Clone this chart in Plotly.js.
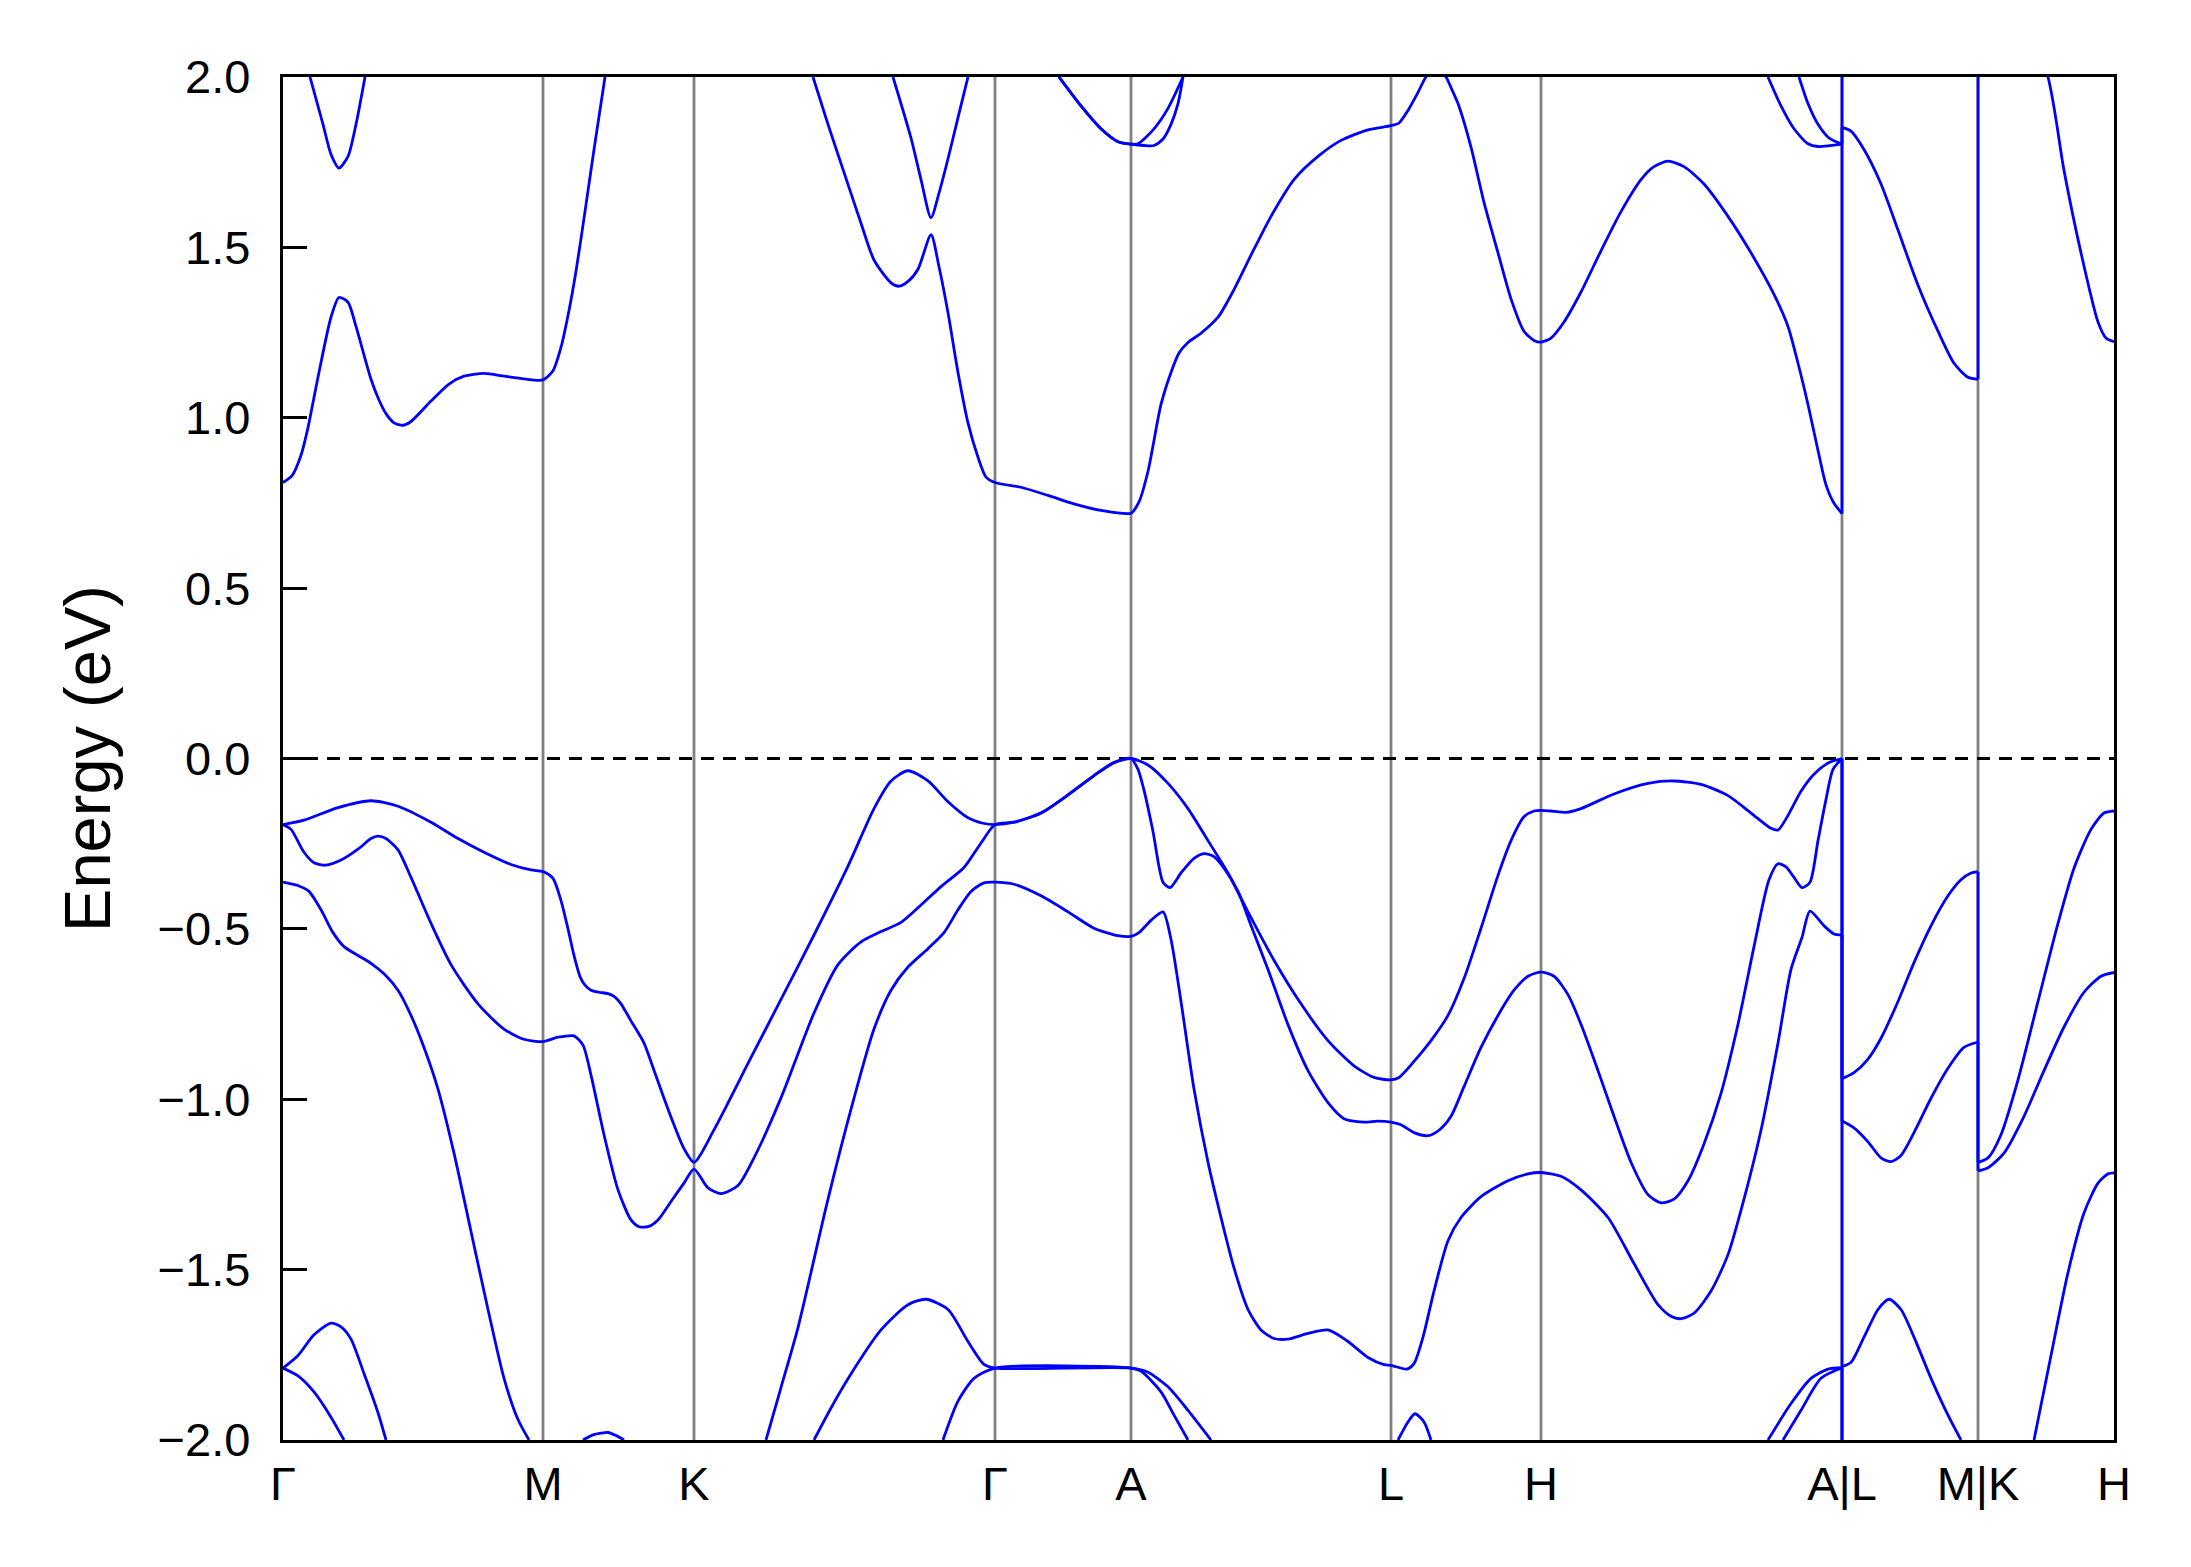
<!DOCTYPE html>
<html><head><meta charset="utf-8">
<script src="https://cdn.plot.ly/plotly-3.0.1.min.js"></script>
<style>html,body{margin:0;padding:0;background:#fff}#chart{width:2191px;height:1567px}</style>
</head><body><div id="chart"></div>
<script>
// High-symmetry path (k-distance units) and labels
const tickVals = [0, 260, 411, 712, 848, 1108, 1258, 1559, 1695, 1831];
const tickLabels = ['Γ', 'M', 'K', 'Γ', 'A', 'L', 'H', 'A|L', 'M|K', 'H'];
const energyTicks = [-2, -1.5, -1, -0.5, 0, 0.5, 1, 1.5, 2];
const fermiLevel = 0;

// Conduction band 1
const cb1K = [0,9,18,25,35,48,56,65,73,88,96,103,111,120,128,148,166,181,201,221,241,260,
  270,278,286,293,301,311,322,null,
  530,545,561,578,591,608,616,625,635,648,656,665,675,685,695,703,712,
  738,765,791,818,848,
  856,865,878,888,896,905,918,935,951,968,988,1011,1035,1058,1085,1108,
  1116,1125,1135,1143,1153,1163,1168,1175,1188,1201,1215,1228,1241,1251,1258,
  1268,1281,1298,1318,1338,1358,1371,1385,1401,1421,1445,1468,1491,1505,1515,1525,1535,1543,1551,1559,
  1559,1568,1581,1598,1615,1635,1655,1671,1685,1695,
  1695,1765,1781,1798,1815,1823,1831];
const cb1E = [0.81,0.83,0.89,0.971,1.119,1.295,1.353,1.339,1.268,1.113,1.052,1.012,0.985,0.978,0.989,1.049,1.099,1.122,1.13,1.122,1.114,1.111,
  1.138,1.207,1.315,1.43,1.585,1.787,2.0,null,
  2.0,1.861,1.72,1.571,1.463,1.396,1.386,1.40,1.436,1.537,1.443,1.308,1.133,0.985,0.884,0.826,0.81,
  0.796,0.772,0.747,0.728,0.72,
  0.753,0.843,1.039,1.133,1.19,1.221,1.248,1.295,1.376,1.477,1.591,1.699,1.767,1.814,1.845,1.857,
  1.865,1.902,1.955,2.0,2.03,2.0,1.969,1.922,1.794,1.632,1.484,1.349,1.254,1.227,1.222,
  1.234,1.281,1.369,1.49,1.605,1.699,1.737,1.753,1.737,1.686,1.591,1.484,1.362,1.268,1.16,1.039,0.904,0.803,0.749,0.719,
  1.852,1.841,1.787,1.686,1.551,1.389,1.254,1.16,1.119,1.113,
  2.6,2.0,1.726,1.484,1.281,1.234,1.223];

// Conduction band 2
const cb2K = [27,40,48,56,65,73,82,null,
  610,628,638,648,656,665,675,685,null,
  776,798,818,835,848,861,871,880,888,895,900,null,
  1485,1498,1511,1525,1535,1559,1559];
const cb2E = [2.0,1.861,1.773,1.733,1.767,1.861,2.0,null,
  2.0,1.821,1.699,1.587,1.659,1.76,1.881,2.0,null,
  2.0,1.915,1.848,1.81,1.803,1.799,1.799,1.818,1.861,1.922,2.0,null,
  2.0,1.915,1.848,1.804,1.796,1.803,2.3];

// Conduction band 3
const cb3K = [776,798,818,835,848,855,871,885,900,null,
  1516,1525,1535,1546,1559];
const cb3E = [2.0,1.915,1.848,1.81,1.803,1.804,1.848,1.908,2.0,null,
  2.0,1.922,1.861,1.821,1.803];

// Valence band 1 (top)
const vb1K = [0,21,55,88,115,148,175,201,228,248,260,
  270,278,285,291,297,302,308,316,325,332,338,348,361,371,381,391,401,411,
  431,465,498,531,565,591,608,625,645,665,685,700,712,
  731,758,785,811,831,848,
  865,885,905,925,945,965,991,1018,1045,1071,1091,1108,
  1116,1131,1148,1165,1181,1198,1215,1228,1241,1251,1258,
  1268,1283,1298,1331,1365,1391,1418,1445,1468,1488,1495,1505,1518,1531,1546,1559,
  1559,1571,1585,1598,1615,1631,1648,1665,1678,1688,1695,
  1695,1705,1718,1735,1755,1775,1791,1808,1821,1831];
const vb1E = [-0.194,-0.181,-0.144,-0.124,-0.14,-0.187,-0.235,-0.275,-0.311,-0.327,-0.332,
  -0.352,-0.417,-0.5,-0.578,-0.64,-0.665,-0.68,-0.686,-0.69,-0.7,-0.72,-0.77,-0.835,-0.915,-0.997,-1.075,-1.145,-1.185,
  -1.09,-0.895,-0.707,-0.518,-0.316,-0.147,-0.066,-0.036,-0.066,-0.127,-0.174,-0.19,-0.194,
  -0.187,-0.16,-0.107,-0.05,-0.012,0,
  -0.019,-0.073,-0.147,-0.241,-0.336,-0.45,-0.592,-0.72,-0.828,-0.902,-0.936,-0.943,
  -0.936,-0.889,-0.828,-0.754,-0.646,-0.498,-0.343,-0.241,-0.171,-0.154,-0.152,
  -0.154,-0.158,-0.147,-0.104,-0.073,-0.066,-0.076,-0.109,-0.16,-0.205,-0.21,-0.167,-0.096,-0.046,-0.012,0,
  -0.94,-0.922,-0.882,-0.821,-0.713,-0.599,-0.491,-0.403,-0.356,-0.336,-0.332,
  -1.185,-1.172,-1.104,-0.943,-0.713,-0.484,-0.322,-0.208,-0.16,-0.154];

// Valence band 2
const vb2K = [0,8,21,31,43,58,75,88,95,103,115,128,148,168,195,221,241,260,
  275,291,300,308,321,335,348,356,365,375,388,401,411,
  425,438,455,471,498,531,555,578,598,618,638,658,681,698,712,
  731,758,785,811,831,848,
  855,861,870,880,887,898,911,921,931,941,955,968,985,1005,1025,1045,1061,1081,1095,1108,
  1118,1131,1145,1156,1168,1181,1198,1215,1231,1245,1258,
  1271,1285,1298,1315,1331,1348,1365,1378,1391,1405,1421,1438,1455,1471,1486,1495,1503,1511,1519,1527,1535,1543,1550,1559,
  1559,1571,1585,1598,1608,1618,1631,1648,1665,1681,1695,
  1695,1705,1721,1741,1761,1781,1801,1818,1831];
const vb2E = [-0.194,-0.208,-0.275,-0.306,-0.313,-0.298,-0.266,-0.235,-0.228,-0.235,-0.268,-0.349,-0.484,-0.605,-0.72,-0.794,-0.824,-0.831,
  -0.818,-0.814,-0.841,-0.929,-1.104,-1.266,-1.354,-1.374,-1.374,-1.354,-1.30,-1.246,-1.205,
  -1.26,-1.277,-1.253,-1.172,-0.996,-0.747,-0.605,-0.538,-0.508,-0.481,-0.43,-0.376,-0.32,-0.248,-0.194,
  -0.187,-0.16,-0.107,-0.05,-0.012,0,
  -0.032,-0.093,-0.214,-0.363,-0.379,-0.336,-0.293,-0.279,-0.288,-0.322,-0.39,-0.49,-0.619,-0.781,-0.916,-1.01,-1.057,-1.067,-1.064,-1.067,
  -1.075,-1.098,-1.107,-1.091,-1.05,-0.963,-0.848,-0.754,-0.68,-0.639,-0.627,
  -0.639,-0.693,-0.78,-0.916,-1.05,-1.185,-1.28,-1.304,-1.293,-1.239,-1.131,-0.983,-0.78,-0.552,-0.356,-0.309,-0.318,-0.349,-0.379,-0.363,-0.241,-0.12,-0.032,0,
  -1.064,-1.084,-1.125,-1.172,-1.183,-1.165,-1.098,-0.997,-0.909,-0.848,-0.832,
  -1.21,-1.201,-1.158,-1.05,-0.916,-0.788,-0.686,-0.639,-0.628];

// Valence band 3
const vb3K = [0,16,26,38,50,61,75,88,101,115,128,141,155,171,188,205,221,235,246,null,
  300,310,318,325,333,341,null,
  483,498,515,545,571,591,608,625,645,661,675,688,701,712,
  731,758,785,811,835,848,
  856,868,880,888,898,911,925,938,951,965,978,991,1005,1025,1045,1065,1085,1101,1108,
  1124,1131,1140,1151,1165,1178,1198,1225,1245,1258,
  1278,1298,1325,1351,1375,1388,1398,1411,1428,1445,1461,1478,1495,1508,1519,1527,1541,1551,1559,
  1559,1568,1581,1595,1606,1618,1631,1648,1665,1678,null,
  1751,1768,1785,1801,1815,1825,1831];
const vb3E = [-0.363,-0.374,-0.39,-0.444,-0.511,-0.552,-0.578,-0.601,-0.632,-0.68,-0.754,-0.848,-0.97,-1.158,-1.388,-1.617,-1.819,-1.94,-2.0,null,
  -2.0,-1.985,-1.98,-1.978,-1.987,-2.0,null,
  -2.0,-1.846,-1.67,-1.293,-0.997,-0.794,-0.68,-0.612,-0.558,-0.511,-0.444,-0.39,-0.365,-0.363,
  -0.369,-0.403,-0.45,-0.498,-0.52,-0.522,
  -0.511,-0.475,-0.45,-0.531,-0.713,-0.97,-1.185,-1.347,-1.495,-1.617,-1.677,-1.702,-1.704,-1.687,-1.677,-1.711,-1.758,-1.779,-1.781,
  -1.792,-1.776,-1.698,-1.563,-1.415,-1.347,-1.286,-1.239,-1.219,-1.215,
  -1.226,-1.266,-1.347,-1.482,-1.603,-1.637,-1.644,-1.628,-1.563,-1.456,-1.293,-1.091,-0.835,-0.619,-0.525,-0.448,-0.491,-0.515,-0.518,
  -1.785,-1.772,-1.698,-1.617,-1.587,-1.617,-1.698,-1.819,-1.927,-2.0,null,
  -2.0,-1.752,-1.509,-1.334,-1.246,-1.219,-1.216];

// Valence band 4
const vb4K = [0,15,31,48,58,68,81,95,103,null,
  531,548,565,598,625,643,665,685,701,712,848,
  865,885,905,928,null,
  1115,1125,1132,1141,1148,null,
  1485,1508,1528,1545,1559,1559];
const vb4E = [-1.789,-1.752,-1.691,-1.657,-1.668,-1.704,-1.805,-1.92,-2.0,null,
  -2.0,-1.906,-1.82,-1.677,-1.603,-1.587,-1.617,-1.711,-1.778,-1.789,-1.789,
  -1.801,-1.844,-1.913,-2.0,null,
  -2.0,-1.947,-1.923,-1.947,-2.0,null,
  -2.0,-1.893,-1.819,-1.792,-1.788,-2.2];

// Valence band 5
const vb5K = [0,15,31,48,61,null,
  660,675,691,712,848,
  858,878,891,905,null,
  1500,1518,1538,1559,1559];
const vb5E = [-1.789,-1.812,-1.859,-1.933,-2.0,null,
  -2.0,-1.886,-1.819,-1.789,-1.789,
  -1.798,-1.859,-1.927,-2.0,null,
  -2.0,-1.913,-1.819,-1.788,-2.2];

const bands = [[cb1K,cb1E],[cb2K,cb2E],[cb3K,cb3E],[vb1K,vb1E],[vb2K,vb2E],[vb3K,vb3E],[vb4K,vb4E],[vb5K,vb5E]];

const bandLine = {color: '#0000ff', width: 2.8};
const traces = [];
// Split each band into smooth pieces; discontinuities (same k, two energies) are drawn straight.
bands.forEach(([k, e]) => {
  let px = [], py = [];
  const flush = () => {
    if (px.length > 1) {
      traces.push({type: 'scatter', mode: 'lines', x: px, y: py,
        line: Object.assign({shape: 'spline', smoothing: 0.7}, bandLine),
        hoverinfo: 'skip', showlegend: false});
    }
    px = []; py = [];
  };
  for (let i = 0; i < k.length; i++) {
    if (k[i] === null || e[i] === null) { flush(); continue; }
    if (px.length && k[i] === px[px.length - 1]) {
      const k0 = px[px.length - 1], e0 = py[py.length - 1];
      flush();
      traces.push({type: 'scatter', mode: 'lines', x: [k0, k[i]], y: [e0, e[i]],
        line: Object.assign({shape: 'linear'}, bandLine), hoverinfo: 'skip', showlegend: false});
    }
    px.push(k[i]); py.push(e[i]);
  }
  flush();
});

const shapes = tickVals.slice(1, -1).map(v => ({
  type: 'line', xref: 'x', yref: 'paper', x0: v, x1: v, y0: 0, y1: 1,
  line: {color: '#808080', width: 2.8}, layer: 'below'
}));
shapes.push({
  type: 'line', xref: 'paper', yref: 'y', x0: 0, x1: 1, y0: fermiLevel, y1: fermiLevel,
  line: {color: 'black', width: 2.8, dash: '13px,9px'}, layer: 'below'
});

const font = 'Liberation Sans, Arial, Helvetica, sans-serif';
const layout = {
  width: 2191, height: 1567,
  margin: {l: 283, r: 77, t: 77, b: 127, pad: 0},
  paper_bgcolor: 'white', plot_bgcolor: 'white',
  font: {family: font, color: 'black', size: 47},
  showlegend: false,
  xaxis: {
    range: [tickVals[0], tickVals[tickVals.length - 1]],
    tickmode: 'array', tickvals: tickVals, ticktext: tickLabels,
    ticks: '', showgrid: false, zeroline: false,
    showline: true, linecolor: 'black', linewidth: 3.2, mirror: true,
    tickfont: {family: font, size: 47, color: 'black'},
    ticklabelstandoff: 0, automargin: false
  },
  yaxis: {
    range: [energyTicks[0], energyTicks[energyTicks.length - 1]],
    tickmode: 'array', tickvals: energyTicks, tickformat: '.1f',
    ticks: 'inside', ticklen: 24, tickwidth: 3, tickcolor: 'black',
    showgrid: false, zeroline: false,
    showline: true, linecolor: 'black', linewidth: 3.2, mirror: true,
    tickfont: {family: font, size: 47, color: 'black'},
    ticklabelstandoff: 20, automargin: false,
    title: {text: 'Energy (eV)', font: {family: font, size: 65, color: 'black'}, standoff: 26}
  },
  shapes: shapes
};

Plotly.newPlot('chart', traces, layout, {staticPlot: true, displayModeBar: false});
</script>
</body></html>
